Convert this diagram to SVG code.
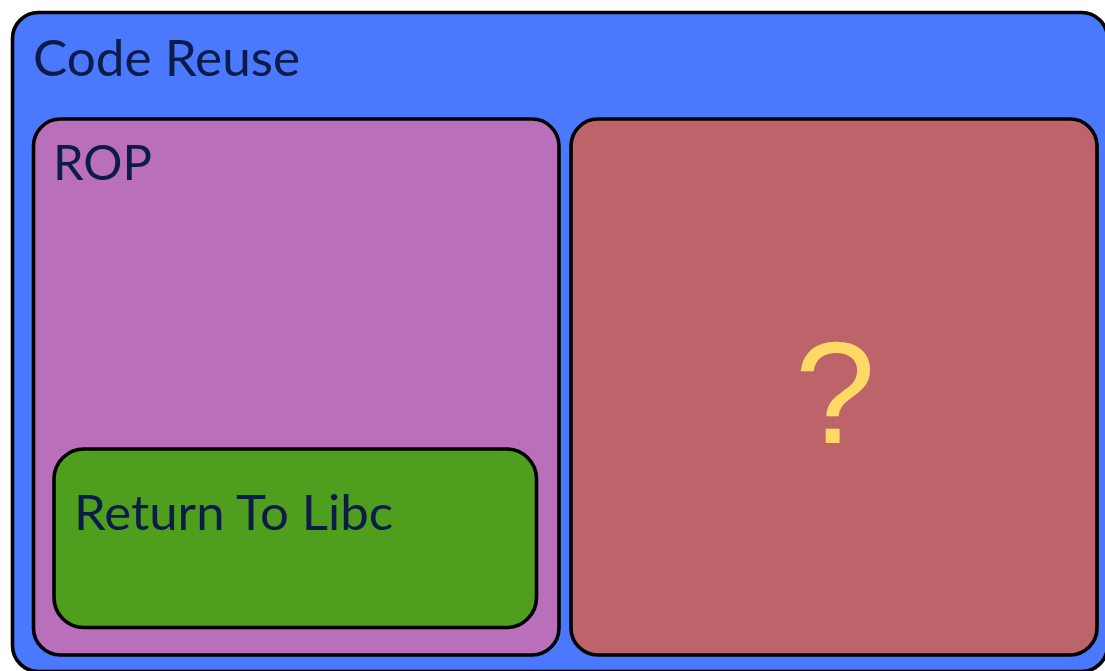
<svg xmlns="http://www.w3.org/2000/svg" width="1105" height="671" viewBox="0 0 1105 671">
<style>
.box{stroke:#000;stroke-width:3.6}
.lbl{font-family:Lato,"Noto Sans","Liberation Sans",sans-serif;fill:#0b1c48}
</style>
<rect width="1105" height="671" fill="#fff"/>
<g id="code-reuse">
<rect class="box" x="12.5" y="12.5" width="1095" height="659" rx="26" fill="#4a78ff"/>
<text class="lbl" x="33" y="76" font-size="51" textLength="267" lengthAdjust="spacingAndGlyphs">Code Reuse</text>
</g>
<g id="rop">
<rect class="box" x="33.5" y="119" width="525.5" height="536" rx="27" fill="#b96fba"/>
<text class="lbl" x="53" y="180" font-size="49" textLength="99" lengthAdjust="spacingAndGlyphs">ROP</text>
</g>
<g id="unknown">
<rect class="box" x="571" y="119" width="526" height="536" rx="27" fill="#bd636a"/>
<text x="835" y="443" font-size="145" text-anchor="middle" font-family="'Liberation Sans',Arial,sans-serif" fill="#ffd966">?</text>
</g>
<g id="ret2libc">
<rect class="box" x="54" y="449" width="482.5" height="178.5" rx="30" fill="#509e1e"/>
<text class="lbl" x="74" y="530" font-size="49" textLength="319" lengthAdjust="spacingAndGlyphs">Return To Libc</text>
</g>
<g id="connectors"/>
</svg>
